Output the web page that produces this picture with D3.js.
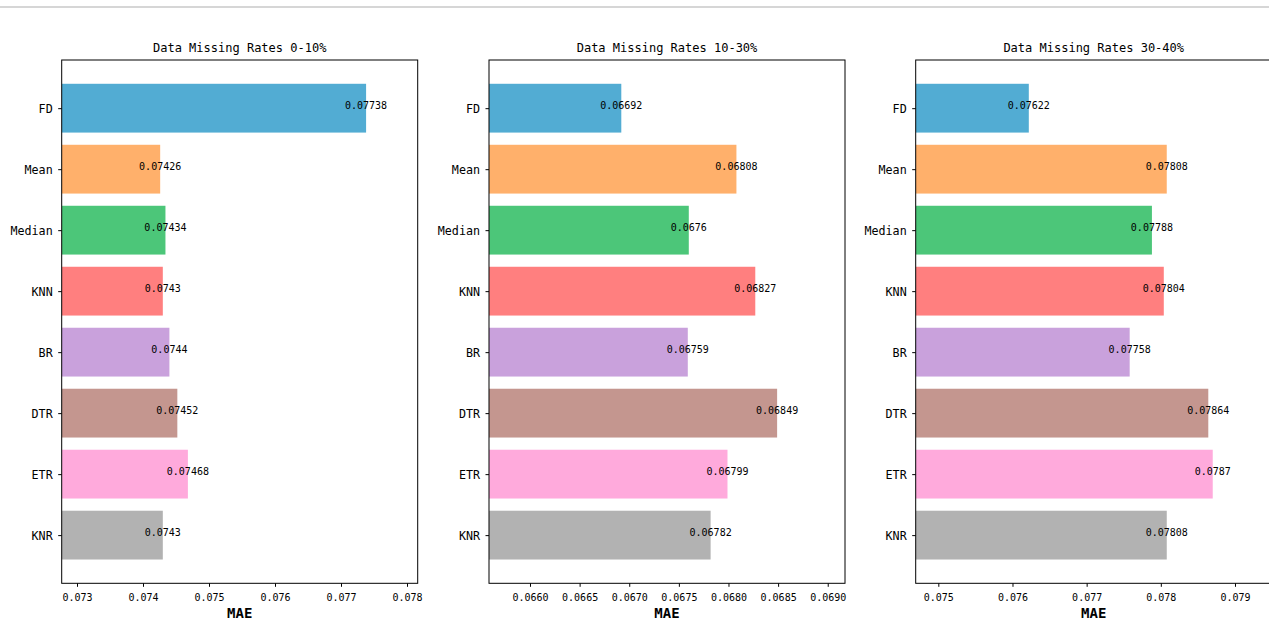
<!DOCTYPE html>
<html>
<head>
<meta charset="utf-8">
<script src="https://cdn.jsdelivr.net/npm/d3@7"></script>
<style>
  html, body { margin: 0; padding: 0; background: #ffffff; }
  svg { display: block; }
  text { font-family: "DejaVu Sans Mono", "Liberation Mono", monospace; fill: #000; }
</style>
</head>
<body>
<svg id="chart" width="1269" height="618"></svg>
<script>
// Imputation methods, top to bottom
const methods = ["FD", "Mean", "Median", "KNN", "BR", "DTR", "ETR", "KNR"];
const barColors = ["#52acd3", "#ffb06b", "#4cc679", "#ff7f7f", "#c9a1dc", "#c4968f", "#ffaadc", "#b2b2b2"];

// MAE per method at each missing-rate band
const titles = ["Data Missing Rates 0-10%", "Data Missing Rates 10-30%", "Data Missing Rates 30-40%"];
const mae0to10 = [0.07738, 0.07426, 0.07434, 0.0743, 0.0744, 0.07452, 0.07468, 0.0743];
const mae10to30 = [0.06692, 0.06808, 0.0676, 0.06827, 0.06759, 0.06849, 0.06799, 0.06782];
const mae30to40 = [0.07622, 0.07808, 0.07788, 0.07804, 0.07758, 0.07864, 0.0787, 0.07808];

// x-axis limits and tick values per panel
const xLimits0to10 = [0.072768, 0.078162];
const xLimits10to30 = [0.065587, 0.069174];
const xLimits30to40 = [0.074695, 0.079495];
const ticks0to10 = [0.073, 0.074, 0.075, 0.076, 0.077, 0.078];
const ticks10to30 = [0.0660, 0.0665, 0.0670, 0.0675, 0.0680, 0.0685, 0.0690];
const ticks30to40 = [0.075, 0.076, 0.077, 0.078, 0.079];
const tickFormats = [".3f", ".4f", ".3f"];

const panels = [
  { title: titles[0], values: mae0to10, limits: xLimits0to10, ticks: ticks0to10, fmt: tickFormats[0] },
  { title: titles[1], values: mae10to30, limits: xLimits10to30, ticks: ticks10to30, fmt: tickFormats[1] },
  { title: titles[2], values: mae30to40, limits: xLimits30to40, ticks: ticks30to40, fmt: tickFormats[2] }
];

const svg = d3.select("#chart");
const W = 1269, H = 618;

// thin rule across the top of the page
svg.append("rect").attr("x", 0).attr("y", 6).attr("width", W).attr("height", 2).attr("fill", "#d6d6d6");

const panelLefts = [61.7, 489, 915.7];
const panelWidth = 356;
const plotTop = 60, plotBottom = 583.3;
const n = methods.length;

panels.forEach((p, i) => {
  const left = panelLefts[i];
  const g = svg.append("g").attr("transform", `translate(${left},0)`);

  const x = d3.scaleLinear().domain(p.limits).range([0, panelWidth]);
  // category positions as in matplotlib barh with 5% margins, first item on top
  const y = d3.scaleLinear().domain([-0.79, n - 1 + 0.79]).range([plotTop, plotBottom]);
  const barH = y(0.4) - y(-0.4);

  const clipId = `clip${i}`;
  g.append("clipPath").attr("id", clipId)
    .append("rect").attr("x", 0).attr("y", plotTop).attr("width", panelWidth).attr("height", plotBottom - plotTop);

  g.append("g").attr("clip-path", `url(#${clipId})`)
    .selectAll("rect").data(p.values).join("rect")
    .attr("x", x(p.limits[0]))
    .attr("y", (d, k) => y(k) - barH / 2)
    .attr("width", d => x(d) - x(p.limits[0]))
    .attr("height", barH)
    .attr("fill", (d, k) => barColors[k]);

  // value labels centred on bar ends
  g.selectAll("text.val").data(p.values).join("text")
    .attr("class", "val")
    .attr("x", d => x(d))
    .attr("y", (d, k) => y(k) + 0.5)
    .attr("text-anchor", "middle")
    .attr("font-size", 10)
    .text(d => String(d));

  // frame
  g.append("rect").attr("x", 0).attr("y", plotTop).attr("width", panelWidth).attr("height", plotBottom - plotTop)
    .attr("fill", "none").attr("stroke", "#000").attr("stroke-width", 1);

  // bottom axis
  const xAxis = d3.axisBottom(x).tickValues(p.ticks).tickFormat(d3.format(p.fmt))
    .tickSize(3.5).tickSizeOuter(0);
  const ax = g.append("g").attr("transform", `translate(0,${plotBottom})`).call(xAxis);
  ax.select(".domain").remove();
  ax.selectAll(".tick line").attr("stroke", "#000");
  ax.selectAll(".tick text").attr("y", 18.2).attr("dy", null)
    .attr("font-size", 10).attr("font-family", "DejaVu Sans Mono").attr("fill", "#000");

  // left axis with method names
  const yAxis = d3.axisLeft(y).tickValues(d3.range(n)).tickFormat(k => methods[k])
    .tickSize(3.5).tickSizeOuter(0).tickPadding(5.5);
  const ay = g.append("g").call(yAxis);
  ay.select(".domain").remove();
  ay.selectAll(".tick line").attr("stroke", "#000");
  ay.selectAll(".tick text").attr("dy", "0.35em")
    .attr("font-size", 11.7).attr("font-family", "DejaVu Sans Mono").attr("fill", "#000");

  // title
  g.append("text").attr("x", panelWidth / 2).attr("y", 52)
    .attr("text-anchor", "middle").attr("font-size", 12).text(p.title);

  // axis label
  g.append("text").attr("x", panelWidth / 2).attr("y", 617.5)
    .attr("text-anchor", "middle").attr("font-size", 14).attr("font-weight", "bold").text("MAE");
});
</script>
</body>
</html>
